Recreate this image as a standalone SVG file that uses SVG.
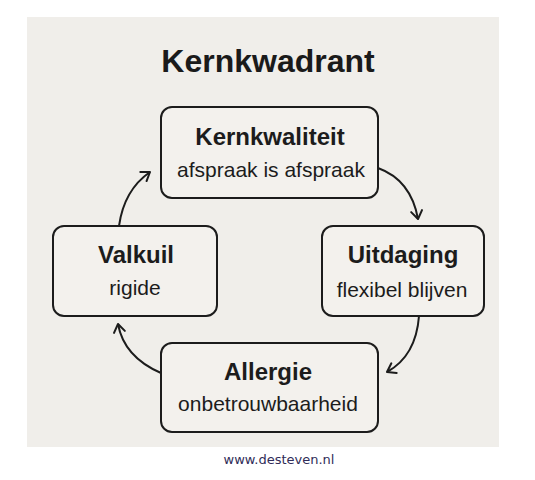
<svg xmlns="http://www.w3.org/2000/svg" width="535" height="480" viewBox="0 0 535 480">
<style>
.box{fill:#f3f1ed;stroke:#1c1c1c;stroke-width:2}
.t{font-family:"Liberation Sans",Arial,sans-serif;font-weight:bold;font-size:24px;fill:#1c1c1c;text-anchor:middle}
.s{font-family:"Liberation Sans",Arial,sans-serif;font-size:21px;fill:#1c1c1c;text-anchor:middle}
.c{fill:none;stroke:#1c1c1c;stroke-width:2}
</style>
<defs>
<marker id="ah" viewBox="-10 -7 12 14" markerWidth="12" markerHeight="14" refX="0" refY="0" orient="auto" markerUnits="userSpaceOnUse">
<path d="M-8,-5.5 L0,0 L-8,5.5" fill="none" stroke="#1c1c1c" stroke-width="2" stroke-linecap="round" stroke-linejoin="round"/>
</marker>
</defs>
<rect width="535" height="480" fill="#ffffff"/>
<rect x="27" y="17" width="472" height="430" fill="#f0eeea"/>
<text x="268" y="72" font-family="Liberation Sans,Arial,sans-serif" font-weight="bold" font-size="32" fill="#1a1a1a" text-anchor="middle">Kernkwadrant</text>
<g id="connectors">
<path class="c" d="M378,168 Q411,180 418,219" marker-end="url(#ah)"/>
<path class="c" d="M419,316 Q416,356 387,372" marker-end="url(#ah)"/>
<path class="c" d="M161,373 Q124,357 118,324" marker-end="url(#ah)"/>
<path class="c" d="M119,226 Q124,190 150,172" marker-end="url(#ah)"/>
</g>
<g id="kernkwaliteit">
<rect class="box" x="161" y="107" width="217" height="91" rx="11"/>
<text class="t" x="270" y="145">Kernkwaliteit</text>
<text class="s" x="271" y="177">afspraak is afspraak</text>
</g>
<g id="valkuil">
<rect class="box" x="53" y="226" width="164" height="90" rx="11"/>
<text class="t" x="136" y="263">Valkuil</text>
<text class="s" x="135" y="295">rigide</text>
</g>
<g id="uitdaging">
<rect class="box" x="322" y="226" width="162" height="90" rx="11"/>
<text class="t" x="403" y="263">Uitdaging</text>
<text class="s" x="402" y="297">flexibel blijven</text>
</g>
<g id="allergie">
<rect class="box" x="161" y="343" width="217" height="89" rx="11"/>
<text class="t" x="268" y="380">Allergie</text>
<text class="s" x="268" y="411">onbetrouwbaarheid</text>
</g>
<text x="279" y="464" font-family="DejaVu Sans,Verdana,sans-serif" font-size="13" fill="#302c58" text-anchor="middle">www.desteven.nl</text>
</svg>
